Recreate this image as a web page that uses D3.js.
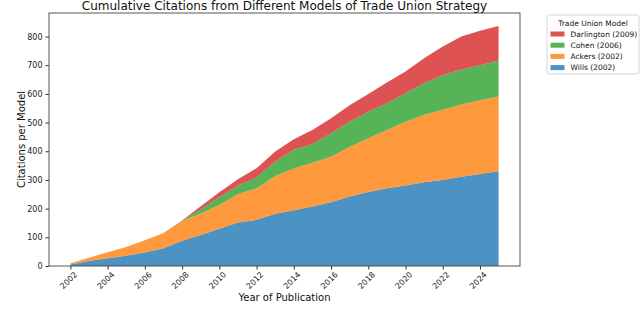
<!DOCTYPE html>
<html><head><meta charset="utf-8">
<script src="https://cdn.jsdelivr.net/npm/d3@7"></script>
<style>body{margin:0;background:#fff}svg{display:block}text{font-family:"DejaVu Sans",sans-serif}</style>
</head><body><svg id="c" width="640" height="319"></svg>
<script>
const years = [2002,2003,2004,2005,2006,2007,2008,2009,2010,2011,2012,2013,2014,2015,2016,2017,2018,2019,2020,2021,2022,2023,2024,2025];
const wills      = [5,17,27,36,47,62,88,108,130,152,161,182,194,207,222,242,258,271,281,292,300,311,321,330];
const ackers     = [5,12,21,30,43,53,69,75,83,99,110,132,146,153,159,174,187,203,222,235,245,252,257,261];
const cohen      = [0,0,0,0,0,0,2,15,27,30,38,50,65,65,82,87,93,93,99,110,120,122,122,125];
const darlington = [0,0,0,0,0,0,0,10,17,21,32,35,37,49,52,57,62,73,76,87,100,115,120,121];
const seriesNames = ["Wills (2002)","Ackers (2002)","Cohen (2006)","Darlington (2009)"];
const seriesColors = ["#1f77b4","#ff7f0e","#2ca02c","#d62728"];
const yTicks = [0,100,200,300,400,500,600,700,800];
const xTicks = [2002,2004,2006,2008,2010,2012,2014,2016,2018,2020,2022,2024];

const svg = d3.select("#c");
const L=49, R=520, T=13, B=266;
const x = d3.scaleLinear().domain([2000.85,2026.15]).range([L,R]);
const y = d3.scaleLinear().domain([0,882]).range([B,T]);

const rows = years.map((yr,i)=>({year:yr, s0:wills[i], s1:ackers[i], s2:cohen[i], s3:darlington[i]}));
const stack = d3.stack().keys(["s0","s1","s2","s3"])(rows);
const area = d3.area().x(d=>x(d.data.year)).y0(d=>y(d[0])).y1(d=>y(d[1]));
svg.append("g").selectAll("path").data(stack).join("path")
  .attr("d",area).attr("fill",(d,i)=>seriesColors[i]).attr("fill-opacity",0.8);

// axes
const gy = svg.append("g").attr("transform",`translate(${L},0)`)
  .call(d3.axisLeft(y).tickValues(yTicks).tickSize(3.5).tickPadding(3));
gy.selectAll("text").attr("font-size",8).attr("fill","#222");
const gx = svg.append("g").attr("transform",`translate(0,${B})`)
  .call(d3.axisBottom(x).tickValues(xTicks).tickFormat(d3.format("d")).tickSize(3.5).tickPadding(3));
gx.selectAll("text").attr("font-size",8).attr("fill","#222")
  .attr("text-anchor","end").attr("dx","-0.2em").attr("dy","0.6em")
  .attr("transform","rotate(-45)");
svg.selectAll(".domain").remove();
svg.selectAll(".tick line").attr("stroke","#333");
// frame
svg.append("rect").attr("x",L).attr("y",T).attr("width",R-L).attr("height",B-T)
  .attr("fill","none").attr("stroke","#444").attr("stroke-width",0.9);

// titles
svg.append("text").attr("x",(L+R)/2).attr("y",10).attr("text-anchor","middle")
  .attr("font-size",12).attr("fill","#111").text("Cumulative Citations from Different Models of Trade Union Strategy");
svg.append("text").attr("x",(L+R)/2).attr("y",301).attr("text-anchor","middle")
  .attr("font-size",10).attr("fill","#111").text("Year of Publication");
svg.append("text").attr("transform",`translate(25,${(T+B)/2}) rotate(-90)`).attr("text-anchor","middle")
  .attr("font-size",10).attr("fill","#111").text("Citations per Model");

// legend
const lg = svg.append("g");
lg.append("rect").attr("x",547).attr("y",15).attr("width",92).attr("height",59).attr("rx",2)
  .attr("fill","#fff").attr("stroke","#ccc").attr("stroke-width",0.8);
lg.append("text").attr("x",593).attr("y",25.5).attr("text-anchor","middle").attr("font-size",7.5).attr("fill","#111").text("Trade Union Model");
[3,2,1,0].forEach((si,k)=>{
  const yy = 34 + k*11.2;
  lg.append("rect").attr("x",550.5).attr("y",yy-2.5).attr("width",14).attr("height",5)
    .attr("fill",seriesColors[si]).attr("fill-opacity",0.8);
  lg.append("text").attr("x",570.5).attr("y",yy+2.7).attr("font-size",7.5).attr("fill","#111").text(seriesNames[si]);
});
</script></body></html>
